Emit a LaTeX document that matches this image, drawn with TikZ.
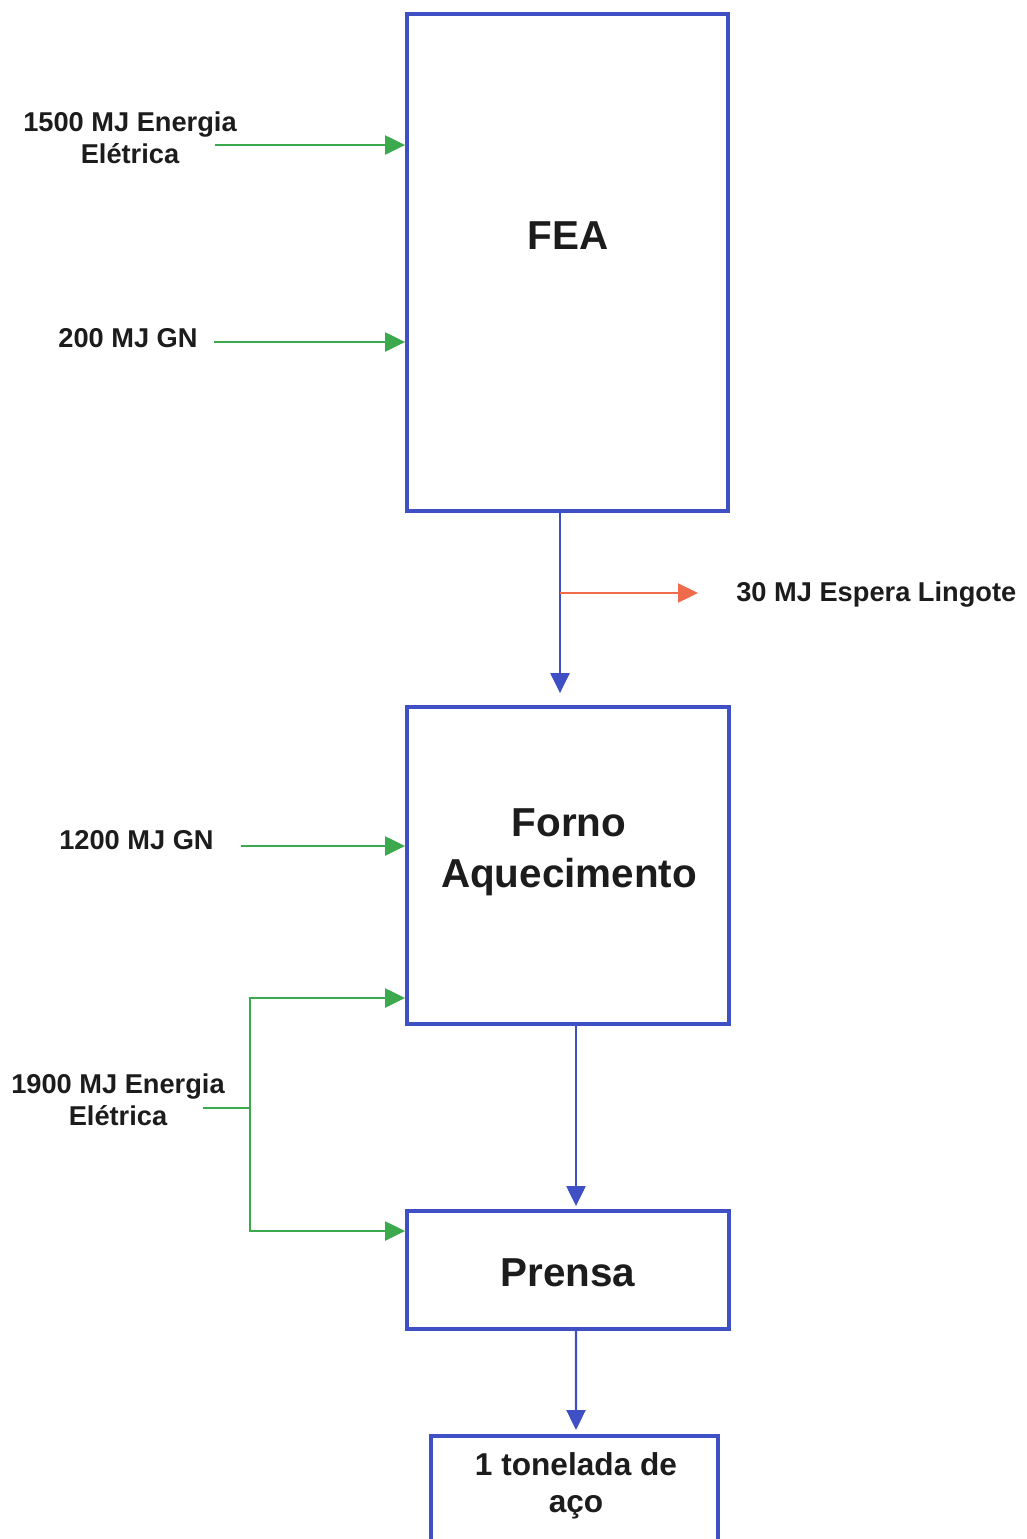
\documentclass[tikz,border=0pt]{standalone}
\usepackage{fontspec}
\setmainfont{Liberation Sans}
\usetikzlibrary{arrows.meta, positioning}
\definecolor{boxblue}{HTML}{3F4FC4}
\definecolor{ingreen}{HTML}{3BAA4C}
\definecolor{outred}{HTML}{EF6B4B}
\definecolor{txtgray}{HTML}{1C1C1C}

\begin{document}
\begin{tikzpicture}[x=0.02cm, y=-0.02cm,
    unit/.style={draw=boxblue, line width=2.2pt, inner sep=0pt},
    unittext/.style={font=\bfseries\fontsize{23}{29}\selectfont, text=txtgray, align=center, inner sep=0pt},
    flowlabel/.style={font=\bfseries\fontsize{15.5}{18.2}\selectfont, text=txtgray, align=center, inner sep=0pt},
    flow/.style={draw=boxblue, line width=1.3pt, -{Triangle[length=0.4cm, width=0.38cm]}},
    feed/.style={draw=ingreen, line width=1.3pt, -{Triangle[length=0.4cm, width=0.38cm]}},
    loss/.style={draw=outred, line width=1.3pt, -{Triangle[length=0.4cm, width=0.38cm]}}]
    \useasboundingbox (0,0) rectangle (1027,1539);
    \clip (0,0) rectangle (1027,1539);
    % process boxes
    \node[unit, minimum width=6.42cm, minimum height=9.94cm] (fea) at (567.5,262.5) {};
    \node[unit, minimum width=6.44cm, minimum height=6.34cm] (forno) at (568,865.5) {};
    \node[unit, minimum width=6.44cm, minimum height=2.36cm] (prensa) at (568,1270) {};
    \node[unit, minimum width=5.74cm, minimum height=4cm, anchor=north] (aco) at (574.5,1434) {};
    \node[unittext] (featxt) at (568,236) {FEA};
    \node[unittext] (fornotxt) at (569,852) {Forno\\Aquecimento};
    \node[unittext] (prensatxt) at (568,1273) {Prensa};
    \node[unittext, font=\bfseries\fontsize{18}{21}\selectfont] (acotxt) at (576,1486) {1 tonelada de\\aço};
    % energy labels
    \node[flowlabel] (l1500) at (130,138) {1500 MJ Energia\\Elétrica};
    \node[flowlabel] (l200) at (128,338) {200 MJ GN};
    \node[flowlabel] (l1200) at (136.5,840) {1200 MJ GN};
    \node[flowlabel] (l1900) at (118,1100) {1900 MJ Energia\\Elétrica};
    \node[flowlabel, anchor=west] (lingote) at (736,595) {30 MJ Espera Lingote};
    % inputs
    \coordinate (e1500) at (215,145);
    \coordinate (e200) at (214,342);
    \coordinate (e1200) at (241,846);
    \coordinate (e1900) at (203,1108);
    \coordinate (j1) at (250,998);
    \coordinate (j2) at (250,1231);
    \draw[feed] (e1500) -- (e1500 -| fea.west);
    \draw[feed] (e200) -- (e200 -| fea.west);
    \draw[feed] (e1200) -- (e1200 -| forno.west);
    \draw[feed] (e1900) -| (j1) -- (j1 -| forno.west);
    \draw[feed] (e1900) -| (j2) -- (j2 -| prensa.west);
    % main line
    \coordinate (tap) at (560,593);
    \draw[flow] (fea.south -| tap) -- ([yshift=0.24cm]forno.north -| tap);
    \draw[loss] (tap) -- ([xshift=-0.76cm]lingote.west |- tap);
    \draw[flow] ([xshift=0.16cm]forno.south) -- ([xshift=0.16cm, yshift=0.06cm]prensa.north);
    \draw[flow] ([xshift=0.16cm]prensa.south) -- ([xshift=0.03cm, yshift=0.08cm]aco.north);
\end{tikzpicture}
\end{document}
